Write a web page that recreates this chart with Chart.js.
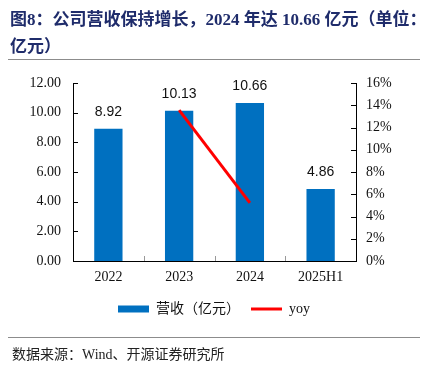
<!DOCTYPE html>
<html lang="zh">
<head>
  <meta charset="UTF-8">
  <title>公司营收保持增长</title>
  <style>
    body {
      margin: 0;
      background: #fff;
      width: 428px;
      height: 366px;
      position: relative;
      overflow: hidden;
      font-family: "Liberation Serif", "Noto Sans CJK SC", serif;
    }
    #title {
      position: absolute;
      left: 10px;
      top: 6px;
      font-size: 17px;
      font-weight: bold;
      line-height: 27px;
      color: #1f2c6b;
      white-space: nowrap;
    }
    .rule {
      position: absolute;
      left: 8px;
      width: 412px;
      height: 1px;
      background: #8c8c8c;
    }
    #source {
      position: absolute;
      left: 12px;
      top: 343px;
      font-size: 14px;
      color: #222;
      white-space: nowrap;
    }
    #wrap {
      position: absolute;
      left: 0;
      top: 0;
      width: 428px;
      height: 366px;
    }
  </style>
</head>
<body>
  <div id="wrap"><canvas id="chart"></canvas></div>
  <div id="title">图8：公司营收保持增长，2024 年达 10.66 亿元（单位：<br>亿元）</div>
  <div class="rule" style="top:59px"></div>
  <div class="rule" style="top:337px"></div>
  <div id="source">数据来源：Wind、开源证券研究所</div>

  <script src="https://cdn.jsdelivr.net/npm/chart.js"></script>
  <script>
    // data
    const years = ['2022', '2023', '2024', '2025H1'];
    const revenue = [8.92, 10.13, 10.66, 4.86];
    const yoy = [null, 13.56, 5.23, null];
    const leftTicks = [0, 2, 4, 6, 8, 10, 12];
    const rightTicks = [0, 2, 4, 6, 8, 10, 12, 14, 16];

    // labels above the bars
    const barLabels = {
      id: 'barLabels',
      afterDatasetsDraw(chart) {
        const ctx = chart.ctx;
        const meta = chart.getDatasetMeta(0);
        ctx.save();
        ctx.font = '14px "Liberation Sans", sans-serif';
        ctx.fillStyle = '#111';
        ctx.textAlign = 'center';
        ctx.textBaseline = 'middle';
        meta.data.forEach((bar, i) => {
          ctx.fillText(revenue[i].toFixed(2), bar.x, bar.y - 17);
        });
        ctx.restore();
      }
    };

    // tick marks pointing into the plot, like the Excel original
    const innerTicks = {
      id: 'innerTicks',
      afterDraw(chart) {
        const ctx = chart.ctx;
        const area = chart.chartArea;
        const y = chart.scales.y, y1 = chart.scales.y1, x = chart.scales.x;
        ctx.save();
        ctx.lineWidth = 1;
        ctx.strokeStyle = '#000';
        ctx.beginPath();
        leftTicks.forEach(v => {
          const py = Math.round(y.getPixelForValue(v)) + 0.5;
          ctx.moveTo(area.left, py);
          ctx.lineTo(area.left + 5, py);
        });
        rightTicks.forEach(v => {
          const py = Math.round(y1.getPixelForValue(v)) + 0.5;
          ctx.moveTo(area.right, py);
          ctx.lineTo(area.right - 5, py);
        });
        ctx.stroke();
        ctx.strokeStyle = '#999';
        ctx.beginPath();
        for (let i = 1; i < years.length; i++) {
          const px = Math.round((x.getPixelForValue(i - 1) + x.getPixelForValue(i)) / 2) + 0.5;
          ctx.moveTo(px, area.bottom);
          ctx.lineTo(px, area.bottom - 5);
        }
        ctx.stroke();
        ctx.restore();
      }
    };

    new Chart(document.getElementById('chart'), {
      data: {
        labels: years,
        datasets: [
          {
            type: 'bar',
            label: '营收（亿元）',
            data: revenue,
            backgroundColor: '#0070c0',
            borderWidth: 0,
            barPercentage: 0.4,
            categoryPercentage: 1,
            yAxisID: 'y',
            pointStyle: 'rect',
            order: 2
          },
          {
            type: 'line',
            label: 'yoy',
            data: yoy,
            borderColor: '#ff0000',
            backgroundColor: '#ff0000',
            borderWidth: 3,
            pointRadius: 0,
            pointStyle: 'line',
            fill: false,
            tension: 0,
            yAxisID: 'y1',
            order: 1
          }
        ]
      },
      options: {
        responsive: true,
        maintainAspectRatio: false,
        animation: false,
        layout: {
          padding: { left: 0, right: 0, top: 83, bottom: 40 }
        },
        scales: {
          x: {
            grid: { display: false, drawTicks: false },
            border: { display: true, color: '#000', width: 1 },
            ticks: {
              color: '#111',
              padding: 8,
              font: { family: '"Liberation Serif", serif', size: 14 }
            },
            afterFit(scale) { scale.height = 30; }
          },
          y: {
            position: 'left',
            min: 0,
            max: 12,
            grid: { display: false, drawTicks: false },
            border: { display: true, color: '#000', width: 1 },
            ticks: {
              stepSize: 2,
              color: '#111',
              padding: 12,
              font: { family: '"Liberation Serif", serif', size: 14 },
              callback: v => v.toFixed(2)
            },
            afterFit(scale) { scale.width = 73; }
          },
          y1: {
            position: 'right',
            min: 0,
            max: 16,
            grid: { display: false, drawTicks: false },
            border: { display: true, color: '#000', width: 1 },
            ticks: {
              stepSize: 2,
              color: '#111',
              padding: 10,
              font: { family: '"Liberation Serif", serif', size: 14 },
              callback: v => v + '%'
            },
            afterFit(scale) { scale.width = 72; }
          }
        },
        plugins: {
          legend: {
            position: 'bottom',
            labels: {
              usePointStyle: true,
              pointStyleWidth: 31,
              boxHeight: 7,
              padding: 11,
              color: '#111',
              font: { family: '"Liberation Serif", "Noto Sans CJK SC", serif', size: 14 },
              sort: (a, b) => a.datasetIndex - b.datasetIndex
            }
          },
          tooltip: { enabled: false }
        }
      },
      plugins: [barLabels, innerTicks]
    });
  </script>
</body>
</html>
